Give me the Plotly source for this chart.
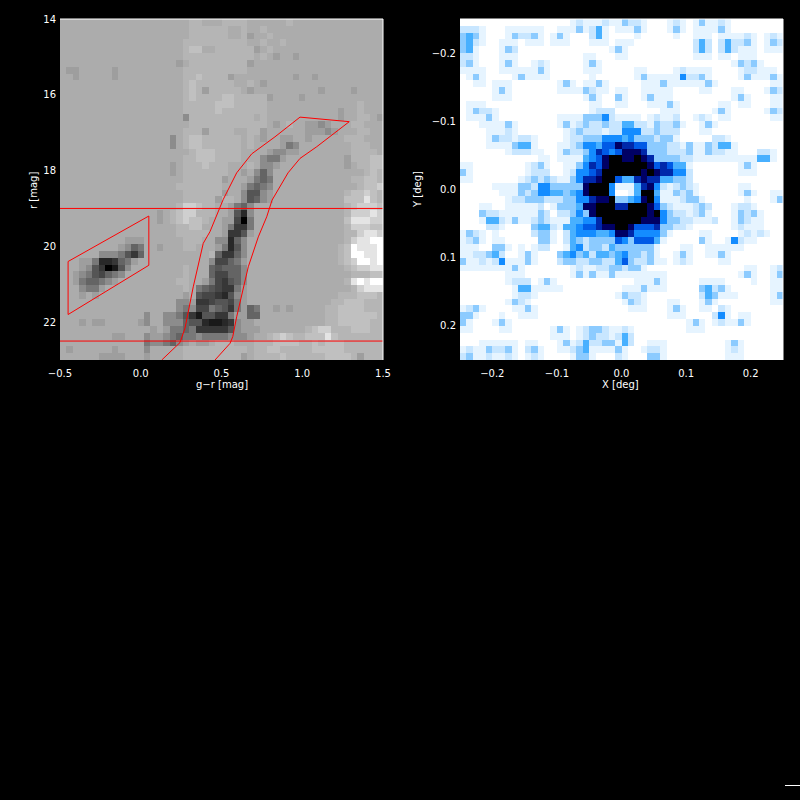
import plotly.graph_objects as go

# grey level of each cmd cell, one hex digit per cell (0 darkest, f lightest), top row first
cmd_rows = [
    "aaaaaaaaaa aaaaaaaaaa bbaaabbbba aaaaabaaaa aaaaaaaaaa",
    "aaaaaaaaaa aaaaaaaaaa bbbbbbaaba abaaaaaaaa aaaaaaaaaa",
    "aaaaaaaaaa aaaaaaaaaa bbbbbbaab9 aabaaaaaaa aaaaaaaaaa",
    "aaaaaaaaaa aaaaaaaaab bbbbbbbbba abaabaaaaa aaaaaaaaaa",
    "aaaaaaaaaa aaaaaaaaab ccaabbbbbb 9abaaaaaaa aaaaaaaaaa",
    "aaaaaaaaaa aaaaaaaaab bbbbbbbbbb aba9aa9aaa aaaaaaaaaa",
    "aaaaaaaaaa aaaaaaaa9a bbbbbbbbb9 aaaaaaaaaa aaaaaaaaaa",
    "a99aaaaa9a aaaaaaaaab bbbbbbbbba aaaaaaaaaa aaaaaaaaaa",
    "aa9aaaaa9a aaaaaaaaab bcbbbb9aaa aaaaaa9aa9 aaaaaaaaaa",
    "aaaaaaaaaa aaaaaaaaab cbbbbbbaab a9aaaaaaaa aaaaaaaaaa",
    "aaaaaaaaaa aaaaaaaaab cb9bbbbba9 aaaaaaaaaa 9aaaa9aaaa",
    "aaaaaaaaaa aaaaaaaaab cbbbbccbbb bb9aaaa9aa aaaaaaaaaa",
    "aaaaaaaaaa aaaaaaaaab bbbbcccbbb bbaaaaaaaa aaaaaabaaa",
    "aaaaaaaaaa aaaaaaaaab bbbbcbbbbb bbaaaaaaaa aaa9aabaaa",
    "aaaaaaaaaa aaaaaaaaa8 bbbbbbbbbb abaaaaaaaa aaa9aabba9",
    "aaaaaaaaaa aaaaaaaaaa bbbbbbbbbb bba9abaa99 89aaabbaaa",
    "aaaaaaaaaa aaaaaaaaab bb9bbbbaab b9aaaaaa99 989aaabbaa",
    "aaaaaaaaaa aaaaaaa8ab ccbbbbbbab a9aa99aa9a aaaabbbaaa",
    "aaaaaaaaaa aaaaaaa8ab ccbbbbbbab aaaa978aaa aaaaabbbaa",
    "aaaaaaaaaa aaaaaaaaaa bcccbbbbaa aa98899aaa aaaaabbbba",
    "aaaaaaaaaa aaaaaaaaab bcccbbbbaa a8779aaaaa aaaa9bbbcc",
    "aaaaaaaaaa aaaaaaa9ab bbcbbbaaab a889aaaaaa aaaa9abbcc",
    "aaaaaaaaaa aaaaaaa9ab bbbbbbaa9a 868aaaaaaa aaaaaaabcb",
    "aaaaaaaaaa aaaaaaaaab bbbbb9aaa9 767aaaaaaa aaaaabbccb",
    "aaaaaaaaaa aaaaaaaabb bbbbbaaa97 678aaaaaaa aaaaaabccd",
    "aaaaaaaaaa aaaaaaaaab bbbbb9aa85 589aaaaaaa aaaabccdcb",
    "aaaaaaaaaa aaaaaaaaab bbbb9bba85 689aaaaaaa aaaacccecb",
    "aaaaaaaaaa aaaaaaaabd dcbbaa9768 aaaaaaaaaa aaaabcdddc",
    "aaaaaaaaaa aaaaa9abcd dbbbaa9528 aaaaaaaaaa aaaabddded",
    "aaaaaaaaaa aaaaa9abcd ccbaa99407 aaaaaaaaaa aaaaceeedd",
    "aaaaaaaaaa aaaaaaaabb ccaaa97337 aaaaaaaaaa aaaabdddcc",
    "aaaaaaaaaa aaaaaaaabb bbbaa93359 aaaaaaaaaa aaaabbdeed",
    "aaaaaaaaaa 999aaaaaab bbaa88268a aaaaaaaaaa aaaabdeeff",
    "aaaaaaaaa9 867aa9aaab baaa97258a aaaaaaaaaa aaabcfeeef",
    "aaaaaa8887 536aaaaaaa aaab63368a aaaaaaaaaa aaabcffeef",
    "aaa9972236 79aaaaaaaa aaa844679a aaaaaaaaaa aaabcdffef",
    "aaa9853015 8aaaaaaaab aaa656668a aaaaaaaaaa aaaabcddee",
    "aa98754678 aaaaaaaaab aaa644668a aaaaaaaaaa aaaaabbbcc",
    "aa9766789a aaaaaaaabb aa9743568a aaaaaaaaaa aaaabefeff",
    "aaa8779aaa aaaaaaaaab a76543379a aaaaaaaaaa aaaaabdeee",
    "aaa9a9aaaa aaaaaaaaa9 a54432589a aaaaaaaaaa aaabbbcccb",
    "aaaaaaaaaa aaaaaaaa88 933455479a aaaaaaaaaa aabbcccbbb",
    "aaaaaaaaaa aaaaaaaa87 8447653796 7aa9a9aaaa abbccccbbb",
    "aaaaaaaaaa aaa8aa8875 3155337996 6aaaaaaaaa abbccccccb",
    "aaa9a99aaa aa98aa8886 5521123899 aaaaaaaaaa abbcccccbb",
    "aaaaaaaaaa aaaa9a9776 7333335899 9aaaaaaabc ddbbbcccbb",
    "aaaaaaaa99 aaa8998767 7877778889 aabcdcbbcc cecbbbbbbb",
    "aaaaaaaaaa aaa7887689 a99abbbaaa bbbccccbbc bcccbbbbbb",
    "a9aaaaaa9a aaa8aaaaab bbbbbbbbba bbccbbbbbc ccccbbbbbb",
    "aaaaaa9999 aaa9aaaaab bbbbbbbb9a bbbbcbbbbb bccccb9bbb",
]

# star count level of each map cell (0 white to 9 black), top row first
map_rows = [
    "0000000000 0000000121 1121132210 0012101311 2100000000",
    "2221000111 1110011131 2410111310 0013101111 3100000000",
    "3431000132 2310131000 2410000100 0001001110 1111210121",
    "3421001110 1110111000 1110111000 0000002420 2422310132",
    "3410001320 0000000000 0001310000 0000002420 2421110111",
    "2210001110 0000000001 1000110000 0000001110 1101110000",
    "2310001310 0121000001 3100000000 0000000000 0013231000",
    "1111001111 1131000001 1100000110 0001211110 0001221110",
    "0131000013 1111000000 1000000131 1111522310 0001311131",
    "0011011100 0000013101 1310000011 1311111131 0000000011",
    "0000013100 0000011113 2110110011 1110000110 0011000132",
    "0000011100 0000000001 3100310013 1110000000 0013100011",
    "0111000000 0000000000 1100110001 1131000000 1101100011",
    "0132210000 0000000000 1222000000 0111000001 3100000132",
    "0111310000 0000011113 3352111101 2112001210 1100000011",
    "0001111310 0000013123 2232244221 3223100131 0000000000",
    "0000111210 0000001232 2212255522 3222000110 0000000000",
    "0000132212 2100001223 3355545333 2331000002 2100000000",
    "0000111134 4100011235 5466877663 3322131132 4410000000",
    "0000000122 2110013223 5765688873 3322231132 2110002210",
    "0000000000 0011011114 5689988987 3333221111 1111114410",
    "1100000000 1231001135 7689999998 6764410000 0001310000",
    "3100000000 1222001255 6799999989 8775520000 0001110000",
    "1100000001 2323211357 7899644787 7443320000 0000000000",
    "0000011113 3255333338 9995111478 5212321000 0001100000",
    "0000001113 2355443458 9995001499 4113231000 0001310011",
    "0000000122 3332223355 7889334589 5111233100 0000100013",
    "0001100111 1120133348 8999779998 6321112320 0012210000",
    "0003221111 1132022353 8999999998 9532212310 0013231000",
    "0001442131 1232111445 5799999988 8533221112 0013211000",
    "0000221000 0344214456 6788998666 7332210000 0012111000",
    "1321010000 0233102455 5445887555 5310000110 0001212100",
    "1231011000 0033102432 3333653666 4100000310 0152110000",
    "1110033101 0122001452 3324333333 1000110011 1111000000",
    "1122342001 3100034534 2443453323 1001310011 3100000000",
    "3112125111 3100023322 3322463223 1101210000 1100000000",
    "1111111131 0000000121 1223323310 0000000000 0000110012",
    "0000000111 0000000131 3113111111 1100000000 0001310013",
    "0000000122 2013100000 0000000111 3100000111 1000010011",
    "0000000014 4111110000 0000011131 1100000342 3100000011",
    "0000000012 2100000000 0000132210 0000000243 1110000013",
    "0000000132 1000000000 0000013210 0011000131 0000000011",
    "1231000011 3100000000 0000001110 0013100110 2100000000",
    "3310001001 1100000000 0000000000 0011100002 5101100000",
    "3100013100 0000000000 0000000000 0000013101 2113100000",
    "1100001100 0000131012 3321121000 0000011100 0000000000",
    "0000000000 0000111012 3221242000 0000000000 0000000000",
    "0001111110 1100013124 2233142001 1100000000 0131000000",
    "1211322310 2310011234 1111310012 2100000000 0121000000",
    "2311211210 1210000133 1000210003 3100000000 0111000000",
]

# selection boxes
ms_left_color = [0.13, 0.243, 0.274, 0.325, 0.387, 0.429, 0.511, 0.594, 0.687, 0.831, 0.986, 1.11, 1.291]
ms_left_mag = [23.0, 22.54, 22.16, 21.07, 19.92, 19.61, 18.76, 18.06, 17.56, 17.11, 16.59, 16.64, 16.71]
ms_right_color = [1.09, 0.986, 0.912, 0.813, 0.78, 0.728, 0.666, 0.625, 0.594, 0.57, 0.553, 0.46]
ms_right_mag = [17.37, 17.68, 18.06, 18.78, 19.22, 19.75, 20.54, 21.28, 21.86, 22.38, 22.56, 23.0]
bhb_color = [-0.45, 0.05, 0.05, -0.45, -0.45]
bhb_mag = [20.4, 19.2, 20.5, 21.8, 20.4]
mag_limits = [19.0, 22.5]

cmd_xticks = [-0.5, 0.0, 0.5, 1.0, 1.5]
cmd_xlabels = ["\u22120.5", "0.0", "0.5", "1.0", "1.5"]
cmd_yticks = [14, 16, 18, 20, 22]
map_ticks = [-0.2, -0.1, 0.0, 0.1, 0.2]
map_xlabels = ["\u22120.2", "\u22120.1", "0.0", "0.1", "0.2"]
map_ylabels = ["\u22120.2", "\u22120.1", "0.0", "0.1", "0.2"]

# 16 grey steps, tighter near the pale background
cmd_greys = [0, 25, 40, 55, 70, 85, 100, 120, 140, 158, 172, 181, 192, 207, 228, 255]
map_colors = ["#ffffff", "#e6f4ff", "#c8e6ff", "#8ccbff", "#48b0ff",
              "#148cff", "#005ae6", "#0028aa", "#000064", "#000000"]


def parse_rows(rows, base):
    grid = []
    for row in rows:
        cells = row.replace(" ", "")
        grid.append([int(c, base) for c in cells[:50].ljust(50, "0")])
    return grid


RED = "#ff0000"
font = dict(family="DejaVu Sans", size=10, color="white")

fig = go.Figure()

fig.add_trace(go.Heatmap(
    z=parse_rows(cmd_rows, 16),
    x0=-0.48, dx=0.04, y0=14.09, dy=0.18,
    zmin=0, zmax=15,
    colorscale=[[i / 15, f"rgb({g},{g},{g})"] for i, g in enumerate(cmd_greys)],
    showscale=False,
    xaxis="x", yaxis="y",
))
fig.add_trace(go.Heatmap(
    z=parse_rows(map_rows, 10),
    x0=-0.245, dx=0.01, y0=-0.245, dy=0.01,
    zmin=0, zmax=9,
    colorscale=[[i / 9, c] for i, c in enumerate(map_colors)],
    showscale=False,
    xaxis="x2", yaxis="y2",
))

line = dict(color=RED, width=1)
fig.add_trace(go.Scatter(x=ms_left_color + ms_right_color, y=ms_left_mag + ms_right_mag,
                         mode="lines", line=line, showlegend=False, xaxis="x", yaxis="y"))
fig.add_trace(go.Scatter(x=bhb_color, y=bhb_mag, mode="lines", line=line,
                         showlegend=False, xaxis="x", yaxis="y"))
for m in mag_limits:
    fig.add_trace(go.Scatter(x=[-0.5, 1.5], y=[m, m], mode="lines", line=line,
                             showlegend=False, xaxis="x", yaxis="y"))

axis_common = dict(
    showgrid=False, zeroline=False, ticks="", showline=False, automargin=False, tickfont=font,
)
fig.update_layout(
    width=800, height=800, autosize=False,
    margin=dict(l=0, r=0, t=0, b=0),
    paper_bgcolor="black", plot_bgcolor="black",
    font=font,
    showlegend=False,
    xaxis=dict(domain=[60 / 800, 383 / 800], range=[-0.5, 1.5], tickvals=cmd_xticks,
               ticktext=cmd_xlabels, ticklabelstandoff=6, **axis_common),
    yaxis=dict(domain=[1 - 360 / 800, 1 - 19 / 800], range=[23, 14], tickvals=cmd_yticks,
               ticklabelstandoff=3, **axis_common),
    xaxis2=dict(domain=[460 / 800, 783 / 800], range=[-0.25, 0.25], tickvals=map_ticks,
                ticktext=map_xlabels, anchor="y2", ticklabelstandoff=6, **axis_common),
    yaxis2=dict(domain=[1 - 360 / 800, 1 - 19 / 800], range=[0.25, -0.25], tickvals=map_ticks,
                ticktext=map_ylabels, anchor="x2", ticklabelstandoff=3, **axis_common),
)

# axis titles placed by hand so the plot areas stay put
titles = [("g\u2212r [mag]", 222, 385, 0), ("X [deg]", 620, 385, 0),
          ("r [mag]", 33, 191, -90), ("Y [deg]", 417, 190, -90)]
for text, px, py, angle in titles:
    fig.add_annotation(text=text, xref="paper", yref="paper", x=px / 800, y=1 - py / 800,
                       showarrow=False, textangle=angle, font=font,
                       xanchor="center", yanchor="middle")

# only the top and right frame lines show in the original
frame = dict(color="white", width=1)
for xname, yname in [("x", "y"), ("x2", "y2")]:
    fig.add_shape(type="line", xref=f"{xname} domain", yref=f"{yname} domain",
                  x0=0, x1=1, y0=1, y1=1, line=frame)
    fig.add_shape(type="line", xref=f"{xname} domain", yref=f"{yname} domain",
                  x0=1, x1=1, y0=0, y1=1, line=frame)

# stray dash in the lower right corner of the page
fig.add_shape(type="line", xref="paper", yref="paper",
              x0=785 / 800, x1=1, y0=1 - 785.5 / 800, y1=1 - 785.5 / 800, line=frame)

fig.write_html("out.html", config=dict(displayModeBar=False),
               post_script="document.body.style.margin='0';"
               "document.body.style.background='black';document.body.style.overflow='hidden';")
